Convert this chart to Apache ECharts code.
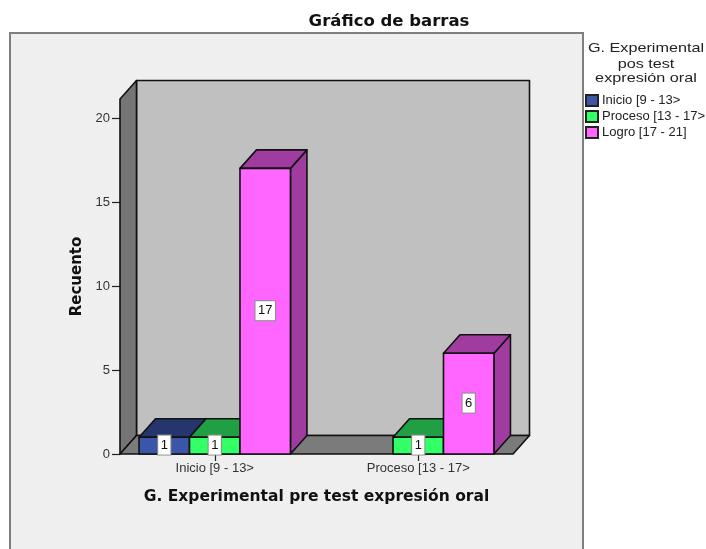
<!DOCTYPE html>
<html><head><meta charset="utf-8">
<style>html,body{margin:0;padding:0;background:#fff}#c{width:706px;height:549px}</style>
<script src="https://cdn.jsdelivr.net/npm/echarts@6/dist/echarts.min.js"></script>
</head><body><div id="c"></div>
<script>
const categories = ['Inicio [9 - 13>', 'Proceso [13 - 17>'];
const seriesNames = ['Inicio [9 - 13>', 'Proceso [13 - 17>', 'Logro [17 - 21]'];
const inicioValues = [1, null];
const procesoValues = [1, 1];
const logroValues = [17, 6];
const yTicks = [0, 5, 10, 15, 20];
const yMax = 21.13;
const frontColors = ['#3b56a8', '#33ff66', '#ff66ff'];
const darkColors = ['#24366c', '#21a043', '#a03ca0'];

const DX = 16.5, DY = 18.5, INSET = 7, BAR = 0.248;
const INK = '#111';
const FONT = '"Liberation Sans"', HEAD = '"DejaVu Sans"';

function poly(points, fill) {
  return { type: 'polygon', shape: { points }, style: { fill, stroke: INK, lineWidth: 1.6, lineJoin: 'round' } };
}
function renderWalls(params, api) {
  const c = params.coordSys;
  const l = c.x + INSET, r = c.x + c.width - INSET, t = c.y, b = c.y + c.height;
  return { type: 'group', children: [
    poly([[l + DX, t - DY], [r + DX, t - DY], [r + DX, b - DY], [l + DX, b - DY]], '#c0c0c0'),
    poly([[l, t], [l + DX, t - DY], [l + DX, b - DY], [l, b]], '#757575'),
    poly([[l, b], [l + DX, b - DY], [r + DX, b - DY], [r, b]], '#7b7b7b')
  ]};
}
function barRenderer(idx) {
  return function (params, api) {
    const v = api.value(1);
    if (v == null || isNaN(v)) return;
    const band = api.size([1, 0])[0];
    const w = band * BAR;
    const base = api.coord([api.value(0), 0]);
    const topPt = api.coord([api.value(0), v]);
    const x0 = base[0] + (idx - 1.5) * w, x1 = x0 + w, yb = base[1], yt = topPt[1];
    return { type: 'group', children: [
      poly([[x1, yt], [x1 + DX, yt - DY], [x1 + DX, yb - DY], [x1, yb]], darkColors[idx]),
      poly([[x0, yt], [x0 + DX, yt - DY], [x1 + DX, yt - DY], [x1, yt]], darkColors[idx]),
      poly([[x0, yt], [x1, yt], [x1, yb], [x0, yb]], frontColors[idx]),
      { type: 'text', z2: 10, style: {
          text: String(v), x: (x0 + x1) / 2, y: (yt + yb) / 2 - 0.5, align: 'center', verticalAlign: 'middle',
          font: '13px ' + FONT, fill: '#111', backgroundColor: '#fff', borderColor: '#8a8a8a', borderWidth: 1,
          padding: [3, 2.5, 2, 2.5], lineHeight: 14 } }
    ]};
  };
}
const valueLists = [inicioValues, procesoValues, logroValues];
const chart = echarts.init(document.getElementById('c'), null, { renderer: 'canvas' });
chart.setOption({
  animation: false,
  backgroundColor: '#fff',
  title: { text: 'Gráfico de barras', left: 384, top: 8, textAlign: 'center',
    textStyle: { fontFamily: HEAD, fontWeight: 'bold', fontSize: 16.5, color: '#111' } },
  legend: {
    left: 585, top: 94, orient: 'vertical', itemWidth: 12, itemHeight: 11, itemGap: 3, padding: 0,
    icon: 'rect', data: seriesNames, selectedMode: false,
    textStyle: { fontFamily: FONT, fontSize: 13, color: '#222', padding: [0, 0, 0, -1] }
  },
  graphic: [
    { type: 'rect', z: -10, silent: true, shape: { x: 10, y: 33, width: 573, height: 600 },
      style: { fill: '#efefef', stroke: '#7f7f7f', lineWidth: 2 } },
    { type: 'text', x: 646, y: 48, scaleX: 1.2, style: { text: 'G. Experimental', align: 'center', verticalAlign: 'middle', font: '13.5px ' + FONT, fill: '#222' } },
    { type: 'text', x: 646, y: 64, scaleX: 1.2, style: { text: 'pos test', align: 'center', verticalAlign: 'middle', font: '13.5px ' + FONT, fill: '#222' } },
    { type: 'text', x: 646, y: 78.5, scaleX: 1.2, style: { text: 'expresión oral', align: 'center', verticalAlign: 'middle', font: '13.5px ' + FONT, fill: '#222' } }
  ],
  grid: { left: 113, right: 186, top: 99, bottom: 95 },
  xAxis: {
    type: 'category', data: categories,
    name: 'G. Experimental pre test expresión oral', nameLocation: 'middle', nameGap: 35,
    nameTextStyle: { fontFamily: HEAD, fontWeight: 'bold', fontSize: 15.5, color: '#111' },
    axisLine: { show: false },
    axisTick: { show: true, alignWithLabel: true, length: 7, lineStyle: { color: '#222', width: 1.2 } },
    axisLabel: { fontFamily: FONT, fontSize: 13, color: '#333', margin: 8 }
  },
  yAxis: {
    type: 'value', min: 0, max: yMax, interval: 5, offset: -7,
    name: 'Recuento', nameLocation: 'middle', nameGap: 35, nameRotate: 90,
    nameTextStyle: { fontFamily: HEAD, fontWeight: 'bold', fontSize: 15, color: '#111' },
    splitLine: { show: false },
    axisLine: { show: false },
    axisTick: { show: true, length: 8, customValues: yTicks, lineStyle: { color: '#222', width: 1.2 } },
    axisLabel: { fontFamily: FONT, fontSize: 13, color: '#333', margin: 10, customValues: yTicks }
  },
  series: [
    { type: 'custom', name: '__walls', z: 1, silent: true, renderItem: renderWalls, data: [[0, 0]], encode: { x: 0, y: 1 } }
  ].concat(seriesNames.map((name, idx) => ({
    type: 'custom', name, z: 2 + idx, renderItem: barRenderer(idx),
    itemStyle: { color: frontColors[idx], borderColor: '#222', borderWidth: 1 },
    encode: { x: 0, y: 1 },
    data: valueLists[idx].map((v, i) => [i, v])
  })))
});
</script></body></html>
